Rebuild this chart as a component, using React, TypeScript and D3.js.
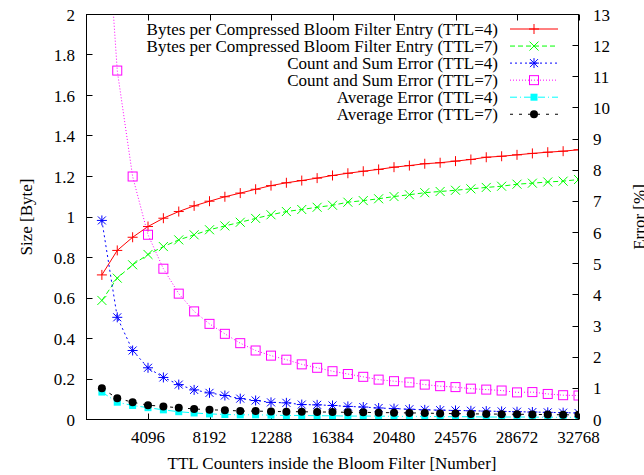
import { useEffect, useRef } from "react";
import * as d3 from "d3";

// TTL counters: 1024 .. 32768 step 1024
const counters = d3.range(1, 33).map(k => k * 1024);

const bytesTtl4 = [
  0.714, 0.835, 0.9, 0.953, 0.994, 1.027, 1.055, 1.078, 1.1, 1.118, 1.137, 1.155,
  1.169, 1.18, 1.192, 1.205, 1.216, 1.226, 1.235, 1.246, 1.254, 1.263, 1.268, 1.276,
  1.284, 1.295, 1.3, 1.307, 1.314, 1.32, 1.325, 1.332,
];
const bytesTtl7 = [
  0.588, 0.698, 0.764, 0.815, 0.854, 0.887, 0.912, 0.937, 0.956, 0.974, 0.993, 1.011,
  1.027, 1.037, 1.048, 1.058, 1.073, 1.081, 1.09, 1.101, 1.11, 1.12, 1.126, 1.132,
  1.139, 1.146, 1.152, 1.162, 1.167, 1.173, 1.177, 1.185,
];
const countSumTtl4 = [
  6.39, 3.28, 2.215, 1.66, 1.35, 1.12, 0.95, 0.855, 0.77, 0.67, 0.61, 0.55,
  0.535, 0.48, 0.47, 0.45, 0.42, 0.4, 0.37, 0.35, 0.33, 0.31, 0.3, 0.29,
  0.28, 0.27, 0.26, 0.25, 0.24, 0.23, 0.22, 0.21,
];
const countSumTtl7 = [
  18.5, 11.2, 7.8, 5.93, 4.84, 4.04, 3.47, 3.07, 2.75, 2.45, 2.215, 2.05,
  1.92, 1.77, 1.66, 1.55, 1.46, 1.37, 1.28, 1.23, 1.19, 1.12, 1.07, 1.04,
  0.99, 0.96, 0.93, 0.87, 0.88, 0.82, 0.78, 0.77,
];
const avgTtl4 = [
  0.88, 0.555, 0.45, 0.38, 0.31, 0.25, 0.21, 0.18, 0.16, 0.15, 0.15, 0.14,
  0.13, 0.13, 0.12, 0.12, 0.11, 0.11, 0.11, 0.1, 0.1, 0.1, 0.09, 0.09,
  0.09, 0.08, 0.08, 0.08, 0.08, 0.07, 0.07, 0.07,
];
const avgTtl7 = [
  1.0, 0.68, 0.555, 0.46, 0.42, 0.375, 0.34, 0.31, 0.3, 0.27, 0.27, 0.26,
  0.25, 0.25, 0.24, 0.24, 0.23, 0.23, 0.22, 0.22, 0.21, 0.21, 0.19, 0.19,
  0.18, 0.18, 0.17, 0.17, 0.16, 0.16, 0.15, 0.15,
];

const xTicks = [4096, 8192, 12288, 16384, 20480, 24576, 28672, 32768];
const yTicks = d3.range(0, 11).map(i => i * 0.2);
const y2Ticks = d3.range(0, 14);

const series = [
  { label: "Bytes per Compressed Bloom Filter Entry (TTL=4)", values: bytesTtl4, axis: "y", color: "#ff0000", dash: null, marker: "plus" },
  { label: "Bytes per Compressed Bloom Filter Entry (TTL=7)", values: bytesTtl7, axis: "y", color: "#00ff00", dash: "5,3", marker: "cross" },
  { label: "Count and Sum Error (TTL=4)", values: countSumTtl4, axis: "y2", color: "#0000ff", dash: "2,3", marker: "star" },
  { label: "Count and Sum Error (TTL=7)", values: countSumTtl7, axis: "y2", color: "#ff00ff", dash: "1,2", marker: "box" },
  { label: "Average Error (TTL=4)", values: avgTtl4, axis: "y2", color: "#00ffff", dash: "7,3,1,3", marker: "fbox" },
  { label: "Average Error (TTL=7)", values: avgTtl7, axis: "y2", color: "#000000", dash: "3,6", marker: "circle" },
];

function drawMarker(g, kind, color, cx, cy) {
  if (kind === "plus") {
    g.append("path").attr("d", `M${cx - 5},${cy}H${cx + 5}M${cx},${cy - 5}V${cy + 5}`)
      .attr("stroke", color).attr("fill", "none");
  } else if (kind === "cross") {
    g.append("path").attr("d", `M${cx - 4.5},${cy - 4.5}L${cx + 4.5},${cy + 4.5}M${cx - 4.5},${cy + 4.5}L${cx + 4.5},${cy - 4.5}`)
      .attr("stroke", color).attr("fill", "none");
  } else if (kind === "star") {
    g.append("path").attr("d", `M${cx - 5},${cy}H${cx + 5}M${cx},${cy - 5}V${cy + 5}M${cx - 4},${cy - 4}L${cx + 4},${cy + 4}M${cx - 4},${cy + 4}L${cx + 4},${cy - 4}`)
      .attr("stroke", color).attr("fill", "none");
  } else if (kind === "box") {
    g.append("rect").attr("x", cx - 4.5).attr("y", cy - 4.5).attr("width", 9).attr("height", 9)
      .attr("stroke", color).attr("fill", "none");
  } else if (kind === "fbox") {
    g.append("rect").attr("x", cx - 3.5).attr("y", cy - 3.5).attr("width", 7).attr("height", 7)
      .attr("fill", color);
  } else {
    g.append("circle").attr("cx", cx).attr("cy", cy).attr("r", 4).attr("fill", color);
  }
}

export default function App() {
  const ref = useRef(null);

  useEffect(() => {
    const el = ref.current;
    el.innerHTML = "";

    const width = 644;
    const height = 475;
    const m = { left: 86.5, right: 578.5, top: 14.5, bottom: 419.5 };
    const font = "'Liberation Serif', 'Times New Roman', serif";

    const svg = d3.select(el).append("svg")
      .attr("width", width).attr("height", height)
      .style("position", "absolute").style("left", 0).style("top", 0)
      .style("font-family", font).style("font-size", "17px");

    const x = d3.scaleLinear().domain([0, 32768]).range([m.left, m.right]);
    const y = d3.scaleLinear().domain([0, 2]).range([m.bottom, m.top]);
    const y2 = d3.scaleLinear().domain([0, 13]).range([m.bottom, m.top]);

    svg.append("defs").append("clipPath").attr("id", "plot-clip")
      .append("rect").attr("x", m.left).attr("y", m.top)
      .attr("width", m.right - m.left).attr("height", m.bottom - m.top);

    const axes = svg.append("g").attr("stroke", "#000").attr("stroke-width", 1);
    // x ticks, bottom + mirrored on top
    xTicks.forEach(t => {
      const px = Math.round(x(t)) + 0.5;
      axes.append("line").attr("x1", px).attr("x2", px).attr("y1", m.bottom).attr("y2", m.bottom - 6);
      axes.append("line").attr("x1", px).attr("x2", px).attr("y1", m.top).attr("y2", m.top + 6);
      svg.append("text").attr("x", x(t)).attr("y", 443).attr("text-anchor", "middle").text(t);
    });
    yTicks.forEach(t => {
      const py = Math.round(y(t) - 0.5) + 0.5;
      axes.append("line").attr("x1", m.left).attr("x2", m.left + 6).attr("y1", py).attr("y2", py);
      svg.append("text").attr("x", 75).attr("y", y(t) + 6).attr("text-anchor", "end")
        .text(d3.format("~g")(+t.toFixed(1)));
    });
    y2Ticks.forEach(t => {
      const py = Math.round(y2(t) - 0.5) + 0.5;
      axes.append("line").attr("x1", m.right).attr("x2", m.right - 6).attr("y1", py).attr("y2", py);
      svg.append("text").attr("x", 593).attr("y", y2(t) + 6).attr("text-anchor", "start").text(t);
    });

    // axis titles
    svg.append("text").attr("x", 332).attr("y", 469).attr("text-anchor", "middle")
      .text("TTL Counters inside the Bloom Filter [Number]");
    svg.append("text").attr("transform", `translate(32,${(m.top + m.bottom) / 2}) rotate(-90)`)
      .attr("text-anchor", "middle").text("Size [Byte]");
    svg.append("text").attr("transform", `translate(645,${(m.top + m.bottom) / 2}) rotate(-90)`)
      .attr("text-anchor", "middle").text("Error [%]");

    // series
    const plot = svg.append("g").attr("clip-path", "url(#plot-clip)");
    series.forEach(s => {
      const ys = s.axis === "y" ? y : y2;
      const line = d3.line().x((d, i) => x(counters[i])).y(d => ys(d));
      plot.append("path").attr("d", line(s.values)).attr("fill", "none")
        .attr("stroke", s.color).attr("stroke-width", 1)
        .attr("stroke-dasharray", s.dash);
      const mg = plot.append("g");
      s.values.forEach((v, i) => {
        const py = ys(v);
        if (py < m.top) return;
        drawMarker(mg, s.marker, s.color, x(counters[i]), py);
      });
    });

    // legend
    const leg = svg.append("g");
    series.forEach((s, i) => {
      const cy = 29 + i * 17.05;
      leg.append("text").attr("x", 498).attr("y", cy + 5.5).attr("text-anchor", "end").text(s.label);
      leg.append("line").attr("x1", 510).attr("x2", 558).attr("y1", cy).attr("y2", cy)
        .attr("stroke", s.color).attr("stroke-dasharray", s.dash);
      drawMarker(leg, s.marker, s.color, 534, cy);
    });

    // border
    svg.append("rect").attr("x", m.left).attr("y", m.top)
      .attr("width", m.right - m.left).attr("height", m.bottom - m.top)
      .attr("fill", "none").attr("stroke", "#000").attr("stroke-width", 1);
  }, []);

  return <div ref={ref} />;
}
